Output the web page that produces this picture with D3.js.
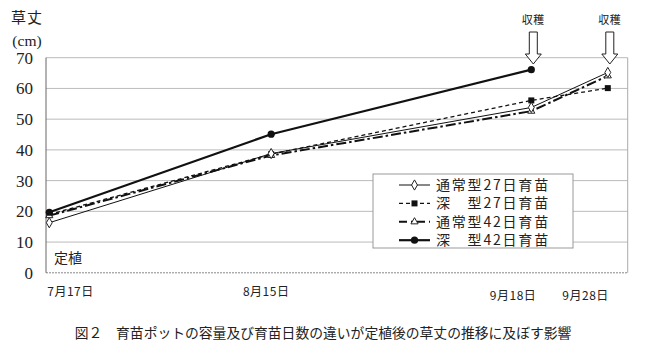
<!doctype html>
<html lang="ja">
<head>
<meta charset="utf-8">
<title>草丈の推移</title>
<script src="https://cdnjs.cloudflare.com/ajax/libs/d3/7.8.5/d3.min.js"></script>
<style>
  body { margin: 0; background: #fff; }
  .jp { font-family: "Noto Sans CJK JP", sans-serif; fill: #222; }
  .num { font-family: "Liberation Serif", serif; fill: #222; }
</style>
</head>
<body>
<script>
// data
const dateLabels = ["7月17日", "8月15日", "9月18日", "9月28日"];
const dayOffsets = [0, 29, 63, 73];          // days after 7/17
const seriesNames = ["通常型27日育苗", "深\u3000型27日育苗", "通常型42日育苗", "深\u3000型42日育苗"];
const normal27 = [16.3, 38.8, 53.8, 65.2];
const deep27   = [19.0, 38.6, 56.1, 60.1];
const normal42 = [18.6, 38.2, 52.6, 64.1];
const deep42   = [19.7, 45.1, 66.1, null];
const yTicks = [0, 10, 20, 30, 40, 50, 60, 70];
const harvestDays = [63, 73];

const W = 650, H = 356;
const svg = d3.select("body").append("svg").attr("width", W).attr("height", H);

const x = d3.scaleLinear().domain([-0.43, 75.6]).range([46, 627.7]);
const y = d3.scaleLinear().domain([0, 70]).range([272.8, 57.7]);

// grid
svg.append("g").selectAll("line").data(yTicks.slice(1)).join("line")
  .attr("x1", x.range()[0]).attr("x2", x.range()[1])
  .attr("y1", d => y(d)).attr("y2", d => y(d))
  .attr("stroke", "#bbb").attr("stroke-width", 1);
// right border
svg.append("line").attr("x1", x.range()[1]).attr("x2", x.range()[1])
  .attr("y1", y(70)).attr("y2", y(0)).attr("stroke", "#aaa");
// bottom axis
svg.append("line").attr("x1", x.range()[0]).attr("x2", x.range()[1])
  .attr("y1", y(0)).attr("y2", y(0)).attr("stroke", "#888").attr("stroke-dasharray", "2,1");
// left axis
svg.append("line").attr("x1", x.range()[0]).attr("x2", x.range()[0])
  .attr("y1", y(70)).attr("y2", y(0)).attr("stroke", "#666");

// y tick labels
svg.append("g").selectAll("text").data(yTicks).join("text")
  .attr("class", "num")
  .attr("x", 33).attr("y", d => y(d) + 6)
  .attr("text-anchor", "end").attr("font-size", 17)
  .text(d => d);

svg.append("text").attr("class", "jp").attr("x", 27).attr("y", 23)
  .attr("text-anchor", "middle").attr("font-size", 15).attr("letter-spacing", 1).text("草丈");
svg.append("text").attr("class", "num").attr("x", 27).attr("y", 46)
  .attr("text-anchor", "middle").attr("font-size", 15.5).text("(cm)");

svg.append("text").attr("class", "jp").attr("x", 54).attr("y", 263)
  .attr("font-size", 14).text("定植");

// x tick labels
const anchors = ["start", "middle", "end", "end"];
const dxs = [-2, -5, 5, 1];
const dys = [296, 296, 300, 300];
svg.append("g").selectAll("text").data(dateLabels).join("text")
  .attr("class", "jp")
  .attr("x", (d, i) => x(dayOffsets[i]) + dxs[i])
  .attr("y", (d, i) => dys[i])
  .attr("text-anchor", (d, i) => anchors[i])
  .attr("font-size", 12).attr("letter-spacing", 0.5)
  .text(d => d);

// series
const styles = [
  { values: normal27, width: 1, dash: null, marker: "diamond" },
  { values: deep27, width: 1.3, dash: "4,3", marker: "square" },
  { values: normal42, width: 2, dash: "10,3,2.5,3", marker: "triangle" },
  { values: deep42, width: 2.2, dash: null, marker: "circle" }
];

function drawMarker(g, kind, cx, cy) {
  if (kind === "circle") {
    g.append("circle").attr("cx", cx).attr("cy", cy).attr("r", 3.6).attr("fill", "#111");
  } else if (kind === "square") {
    g.append("path").attr("transform", `translate(${cx},${cy})`)
      .attr("d", d3.symbol(d3.symbolSquare, 36)()).attr("fill", "#111");
  } else if (kind === "diamond") {
    g.append("path").attr("transform", `translate(${cx},${cy})`)
      .attr("d", d3.symbol(d3.symbolDiamond, 30)()).attr("fill", "#fff")
      .attr("stroke", "#222").attr("stroke-width", 1);
  } else {
    g.append("path").attr("transform", `translate(${cx},${cy})`)
      .attr("d", d3.symbol(d3.symbolTriangle, 22)()).attr("fill", "#fff")
      .attr("stroke", "#222").attr("stroke-width", 1);
  }
}

const line = d3.line().defined(d => d.v != null).x(d => x(d.t)).y(d => y(d.v));
const order = [1, 2, 0, 3];
order.forEach(si => {
  const s = styles[si];
  const pts = s.values.map((v, i) => ({ t: dayOffsets[i], v }));
  const g = svg.append("g");
  g.append("path").datum(pts).attr("d", line).attr("fill", "none")
    .attr("stroke", "#111").attr("stroke-width", s.width)
    .attr("stroke-dasharray", s.dash);
  pts.filter(p => p.v != null).forEach(p => drawMarker(g, s.marker, x(p.t), y(p.v)));
});

// legend
const lg = svg.append("g");
lg.append("rect").attr("x", 373).attr("y", 174).attr("width", 200).attr("height", 74)
  .attr("fill", "#fff").attr("stroke", "#999");
seriesNames.forEach((name, i) => {
  const ly = 185 + i * 18.4;
  const s = styles[i];
  lg.append("line").attr("x1", 399).attr("x2", 430).attr("y1", ly).attr("y2", ly)
    .attr("stroke", "#111").attr("stroke-width", s.width)
    .attr("stroke-dasharray", i === 2 ? "8,4,3,3" : s.dash);
  drawMarker(lg, s.marker, 414.5, ly);
  lg.append("text").attr("class", "jp").attr("x", 436).attr("y", ly + 5)
    .attr("font-size", 14).attr("letter-spacing", 1.8).text(name);
});

// harvest arrows
const arrow = svg.append("g");
harvestDays.forEach(dday => {
  const cx = x(dday) + 2;
  arrow.append("text").attr("class", "jp").attr("x", cx).attr("y", 24)
    .attr("text-anchor", "middle").attr("font-size", 11).attr("letter-spacing", 0.5).text("収穫");
  const top = 32, neck = 54, tip = 64;
  arrow.append("path")
    .attr("d", `M${cx - 4},${top} L${cx + 4},${top} L${cx + 4},${neck} L${cx + 8},${neck} L${cx},${tip} L${cx - 8},${neck} L${cx - 4},${neck} Z`)
    .attr("fill", "#fff").attr("stroke", "#222").attr("stroke-width", 1);
});

// caption
svg.append("text").attr("class", "jp").attr("x", 323).attr("y", 338)
  .attr("text-anchor", "middle").attr("font-size", 13.8)
  .text("図２　育苗ポットの容量及び育苗日数の違いが定植後の草丈の推移に及ぼす影響");
</script>
</body>
</html>
